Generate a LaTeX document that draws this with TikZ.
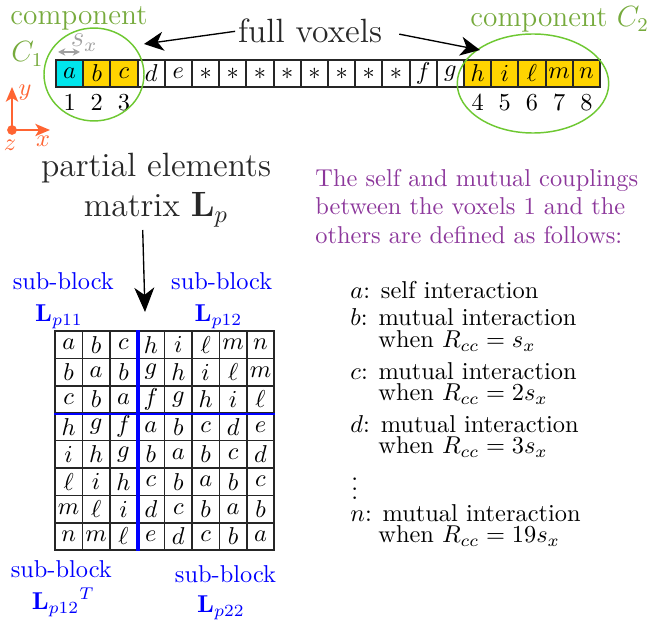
\documentclass[tikz,border=0pt]{standalone}
\usetikzlibrary{arrows.meta,shapes.geometric}
\definecolor{cellcyan}{RGB}{0,230,236}
\definecolor{cellgold}{RGB}{255,212,0}
\definecolor{compgreen}{RGB}{118,170,60}
\definecolor{ringgreen}{RGB}{110,200,50}
\definecolor{axisorange}{RGB}{255,100,50}
\definecolor{notepurple}{RGB}{140,55,155}
\definecolor{textgray}{RGB}{40,40,40}
\definecolor{blockblue}{RGB}{0,0,255}
\definecolor{sxgray}{RGB}{160,160,160}
\begin{document}
\begin{tikzpicture}[x=0.41pt,y=-0.41pt,
  voxel/.style={draw=black!85, line width=0.75pt, minimum size=11.15pt, inner sep=0pt},
  cell/.style={draw=black!85, line width=0.6pt, minimum size=11.23pt, inner sep=0pt},
  bigtext/.style={font=\fontsize{13.8}{16.5}\selectfont, text=textgray, inner sep=1pt},
  complabel/.style={font=\fontsize{12}{14.5}\selectfont, text=compgreen, inner sep=0pt, anchor=base west},
  blocklabel/.style={text=blockblue, inner sep=0pt, anchor=base},
  note/.style={text=notepurple, anchor=base west, inner sep=0pt},
  item/.style={anchor=base west, inner sep=0pt},
  ring/.style={draw=ringgreen, line width=0.6pt, ellipse, inner sep=0pt},
  pointer/.style={-{Stealth[length=8pt,width=7.8pt,inset=2.4pt]}, line width=0.55pt, draw=black},
  axisarrow/.style={draw=axisorange, line width=0.85pt, -{Stealth[length=6pt,width=5pt,inset=1.5pt]}},
  axislabel/.style={text=axisorange, inner sep=0pt},
]
\useasboundingbox (0,0) rectangle (650,621);

% row of voxels
\foreach \lab/\fc [count=\i] in {a/cellcyan,b/cellgold,c/cellgold,d/white,e/white,
    */white,*/white,*/white,*/white,*/white,*/white,*/white,*/white,
    f/white,g/white,h/cellgold,i/cellgold,\ell/cellgold,m/cellgold,n/cellgold}
  \node[voxel, fill=\fc] (v\i) at ({56+27.2*(\i-0.5)},73.5) {$\lab$};

% voxel numbers
\foreach \k/\n in {1/1,2/2,3/3,16/4,17/5,18/6,19/7,20/8}
  \node[anchor=base, inner sep=0pt] (num\n) at ({56+27.2*(\k-0.5)},111) {\n};

% components
\node[ring, minimum width=41pt, minimum height=38.1pt] (c1ring) at (94,74.5) {};
\node[ring, minimum width=62.1pt, minimum height=40.6pt] (c2ring) at (533,83.5) {};
\node[complabel] (c1word) at (10,25) {component};
\node[complabel] (c1name) at (11,62) {$C_1$};
\node[complabel] (c2label) at (470,27) {component $C_2$};

% voxel size
\coordinate (sxl) at (58,52);
\coordinate (sxr) at (80,52);
\draw[sxgray, line width=0.6pt, {Stealth[length=3pt,width=3pt]}-{Stealth[length=3pt,width=3pt]}] (sxl) -- (sxr);
\node[text=sxgray, font=\fontsize{12}{14}\selectfont, inner sep=0pt, anchor=base west] (sx) at (70.5,46.7) {$s_x$};

% full voxels
\node[bigtext, anchor=base] (fv) at (310,43) {full voxels};
\coordinate (tipA) at (144,44);
\coordinate (tipB) at (480,50);
\draw[pointer] (fv.west) -- (tipA);
\draw[pointer, shorten <=6pt] (fv.east) -- (tipB);

% axes
\coordinate (orig) at (12,130);
\coordinate (ytip) at (12,87);
\coordinate (xtip) at (50,130);
\draw[axisarrow] (orig) -- (ytip);
\draw[axisarrow] (orig) -- (xtip);
\fill[axisorange] (orig) circle [radius=2pt];
\node[axislabel] (ylab) at (25,93) {$y$};
\node[axislabel] (xlab) at (43,141) {$x$};
\node[axislabel] (zlab) at (10,145) {$z$};

% matrix caption
\node[bigtext, anchor=base] (pm1) at (156,177) {partial elements};
\node[bigtext, anchor=base] (pm2) at (156,217) {matrix $\mathbf{L}_p$};
\coordinate (lpFrom) at (142.7,230);
\coordinate (lpTip) at (145,312);
\draw[line width=0.55pt, -{Stealth[length=10pt,width=8.2pt,inset=3pt]}] (lpFrom) -- (lpTip);

% partial elements matrix
\foreach \row [count=\r] in {{a,b,c,h,i,\ell,m,n},{b,a,b,g,h,i,\ell,m},{c,b,a,f,g,h,i,\ell},
    {h,g,f,a,b,c,d,e},{i,h,g,b,a,b,c,d},{\ell,i,h,c,b,a,b,c},{m,\ell,i,d,c,b,a,b},{n,m,\ell,e,d,c,b,a}}
  \foreach \e [count=\c] in \row
    \node[cell] (m-\r-\c) at ({55+27.4*(\c-0.5)},{331+27.4*(\r-0.5)}) {$\e$};

\draw[blockblue, line width=0.9pt] (m-3-1.south west) -- (m-3-8.south east);
\draw[blockblue, line width=1.6pt] (m-1-3.north east) -- (m-8-3.south east);

% sub-block labels
\node[blocklabel] (sb11) at (63.3,290) {sub-block};
\node[blocklabel] (L11) at (59,322) {$\mathbf{L}_{p11}$};
\node[blocklabel] (sb12) at (221.7,290) {sub-block};
\node[blocklabel] (L12) at (218.5,322) {$\mathbf{L}_{p12}$};
\node[blocklabel] (sb21) at (61.3,578) {sub-block};
\node[blocklabel] (L21) at (63.3,610) {${\mathbf{L}_{p12}}^T$};
\node[blocklabel] (sb22) at (225.5,583) {sub-block};
\node[blocklabel] (L22) at (221,613) {$\mathbf{L}_{p22}$};

% description
\node[note] (n1) at (315,186.7) {The self and mutual couplings};
\node[note] (n2) at (315,215) {between the voxels 1 and the};
\node[note] (n3) at (315,243.3) {others are defined as follows:};

\node[item] (ia) at (350,299) {$a$: self interaction};
\node[item] (ib) at (350,326) {$b$: mutual interaction};
\node[item] (ib2) at (378,348) {when $R_{cc}=s_x$};
\node[item] (ic) at (350,380) {$c$: mutual interaction};
\node[item] (ic2) at (378,401) {when $R_{cc}=2s_x$};
\node[item] (id) at (350,433) {$d$: mutual interaction};
\node[item] (id2) at (378,454) {when $R_{cc}=3s_x$};
\node[item] (idots) at (351,500) {$\vdots$};
\node[item] (in) at (350,522) {$n$: mutual interaction};
\node[item] (in2) at (378,543) {when $R_{cc}=19s_x$};
\end{tikzpicture}
\end{document}
